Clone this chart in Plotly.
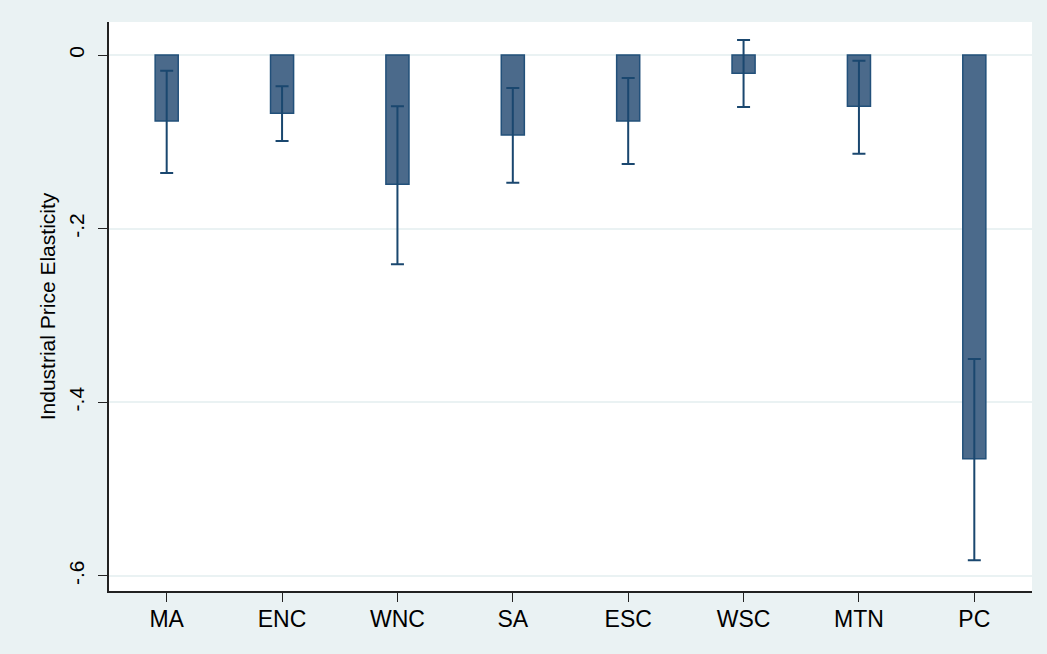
import plotly.graph_objects as go

# Census-division industrial price elasticities with confidence bounds
regions = ["MA", "ENC", "WNC", "SA", "ESC", "WSC", "MTN", "PC"]
elasticity = [-0.076, -0.067, -0.149, -0.092, -0.076, -0.021, -0.059, -0.465]
upper_bound = [-0.018, -0.036, -0.059, -0.038, -0.0265, 0.0173, -0.0065, -0.350]
lower_bound = [-0.136, -0.099, -0.241, -0.147, -0.1256, -0.060, -0.1137, -0.582]

y_tick_vals = [0, -0.2, -0.4, -0.6]
y_tick_text = ["0", "-.2", "-.4", "-.6"]

err_plus = [u - v for u, v in zip(upper_bound, elasticity)]
err_minus = [v - l for v, l in zip(elasticity, lower_bound)]

navy = "#1A476F"
bg = "#EAF2F3"

fig = go.Figure(
    go.Bar(
        x=regions,
        y=elasticity,
        width=0.2,
        marker=dict(color="#4B6A8B", line=dict(color="#22507A", width=1.5)),
        error_y=dict(
            type="data",
            symmetric=False,
            array=err_plus,
            arrayminus=err_minus,
            color=navy,
            thickness=2,
            width=6.5,
        ),
        showlegend=False,
    )
)

fig.update_layout(
    width=1047,
    height=654,
    margin=dict(l=109, r=15, t=22, b=63),
    paper_bgcolor=bg,
    plot_bgcolor="white",
    font=dict(family="Liberation Sans, Arial, sans-serif", color="black"),
    bargap=0.8,
)

fig.update_xaxes(
    range=[-0.5, 7.5],
    showline=True,
    linecolor="#222",
    linewidth=1.5,
    ticks="outside",
    ticklen=9,
    tickwidth=1.2,
    tickcolor="#222",
    tickfont=dict(size=23),
    ticklabelstandoff=-2,
    showgrid=False,
    mirror=False,
)

fig.update_yaxes(
    range=[-0.6173, 0.038],
    tickvals=y_tick_vals,
    ticktext=y_tick_text,
    tickangle=-90,
    tickfont=dict(size=21),
    ticklabelstandoff=6,
    showline=True,
    linecolor="#222",
    linewidth=1.5,
    ticks="outside",
    ticklen=9,
    tickwidth=1.2,
    tickcolor="#222",
    showgrid=True,
    gridcolor=bg,
    gridwidth=1.5,
    zeroline=False,
    title=dict(text="Industrial Price Elasticity", font=dict(size=21), standoff=3),
)

fig.write_html("out.html")
